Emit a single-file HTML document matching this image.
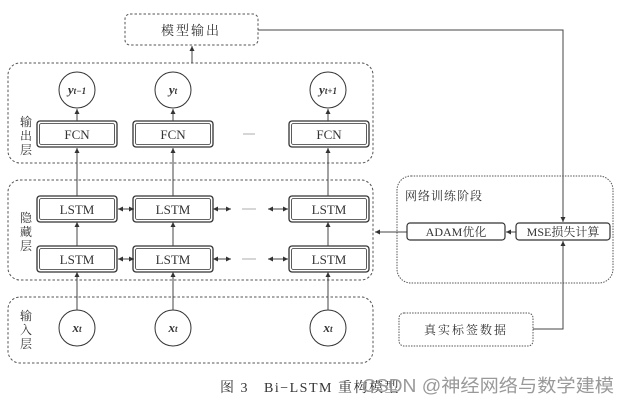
<!DOCTYPE html>
<html><head><meta charset="utf-8"><style>
body{margin:0;background:#fff;width:629px;height:405px;overflow:hidden}
text{font-family:"Liberation Serif","Noto Serif CJK SC",serif;fill:#333}
</style></head><body>
<svg width="629" height="405" viewBox="0 0 629 405" xmlns="http://www.w3.org/2000/svg">
<defs><marker id="a" markerWidth="6" markerHeight="6" refX="5" refY="3" orient="auto"><path d="M0,0.5 L5,3 L0,5.5z" fill="#333"/></marker>
<marker id="b" markerWidth="6" markerHeight="6" refX="1" refY="3" orient="auto"><path d="M6,0.5 L1,3 L6,5.5z" fill="#333"/></marker></defs>
<g fill="none" stroke="#555" stroke-dasharray="2.5,2" stroke-width="1">
<rect x="125" y="14" width="133" height="31" rx="5"/>
<rect x="8" y="63" width="365" height="100" rx="12"/>
<rect x="8" y="180" width="365" height="100" rx="12"/>
<rect x="8" y="297" width="365" height="66" rx="12"/>
<rect x="397" y="176" width="216" height="107" rx="14" stroke-dasharray="1.5,1.2"/>
<rect x="399" y="313" width="134" height="33" rx="5" stroke-dasharray="1.5,1.2"/>
</g>
<text x="191" y="35" font-size="13" text-anchor="middle" letter-spacing="2">模型输出</text>
<g font-size="12" fill="#444"><text x="20" y="126">输</text><text x="20" y="140">出</text><text x="20" y="154">层</text>
<text x="20" y="222">隐</text><text x="20" y="236">藏</text><text x="20" y="250">层</text>
<text x="20" y="320">输</text><text x="20" y="334">入</text><text x="20" y="348">层</text></g>
<g stroke="#333" fill="#fff" stroke-width="1">
<circle cx="77" cy="90" r="18"/><circle cx="173" cy="90" r="18"/><circle cx="328" cy="90" r="18"/>
<circle cx="77" cy="328" r="18"/><circle cx="173" cy="328" r="18"/><circle cx="328" cy="328" r="18"/>
</g>
<g font-size="13" font-weight="bold" font-style="italic" text-anchor="middle">
<text x="77" y="94">y<tspan font-size="9">t−1</tspan></text><text x="173" y="94">y<tspan font-size="9">t</tspan></text><text x="328" y="94">y<tspan font-size="9">t+1</tspan></text>
<text x="77" y="332">x<tspan font-size="9">t</tspan></text><text x="173" y="332">x<tspan font-size="9">t</tspan></text><text x="328" y="332">x<tspan font-size="9">t</tspan></text>
</g>
<g stroke="#333" fill="none">
<g id="bx"><rect x="37" y="121" width="80" height="26" rx="3" stroke-width="1.3"/><rect x="39.5" y="123.5" width="75" height="21" rx="2" stroke-width="0.8"/></g>
<use href="#bx" x="96"/><use href="#bx" x="252"/>
<use href="#bx" y="75"/><use href="#bx" x="96" y="75"/><use href="#bx" x="252" y="75"/>
<use href="#bx" y="125"/><use href="#bx" x="96" y="125"/><use href="#bx" x="252" y="125"/>
</g>
<g font-size="13" text-anchor="middle"><text x="77" y="139">FCN</text><text x="173" y="139">FCN</text><text x="329" y="139">FCN</text>
<text x="77" y="214">LSTM</text><text x="173" y="214">LSTM</text><text x="329" y="214">LSTM</text>
<text x="77" y="264">LSTM</text><text x="173" y="264">LSTM</text><text x="329" y="264">LSTM</text></g>
<g stroke="#444" stroke-width="1" marker-end="url(#a)">
<line x1="192" y1="63" x2="192" y2="46"/>
<line x1="77" y1="121" x2="77" y2="109"/><line x1="173" y1="121" x2="173" y2="109"/><line x1="328" y1="121" x2="328" y2="109"/>
<line x1="77" y1="196" x2="77" y2="148"/><line x1="173" y1="196" x2="173" y2="148"/><line x1="328" y1="196" x2="328" y2="148"/>
<line x1="77" y1="246" x2="77" y2="222"/><line x1="173" y1="246" x2="173" y2="222"/><line x1="328" y1="246" x2="328" y2="222"/>
<line x1="77" y1="310" x2="77" y2="272"/><line x1="173" y1="310" x2="173" y2="272"/><line x1="328" y1="310" x2="328" y2="272"/>
<g marker-start="url(#b)">
<line x1="118" y1="209" x2="134" y2="209"/><line x1="118" y1="259" x2="134" y2="259"/>
<line x1="213" y1="209" x2="231" y2="209"/><line x1="213" y1="259" x2="231" y2="259"/>
<line x1="268" y1="209" x2="288" y2="209"/><line x1="268" y1="259" x2="288" y2="259"/>
</g>
<line x1="407" y1="232" x2="375" y2="232"/>
<line x1="516" y1="232" x2="506" y2="232"/>
<polyline fill="none" points="258,30 563,30 563,222"/>
<polyline fill="none" points="533,329 563,329 563,241"/>
</g>
<g stroke="#999" stroke-width="0.8"><line x1="243" y1="134" x2="255" y2="134"/><line x1="242" y1="209" x2="256" y2="209"/><line x1="242" y1="259" x2="256" y2="259"/></g>
<g fill="none" stroke="#333" stroke-width="1.2"><rect x="407" y="223" width="98" height="17" rx="3"/><rect x="516" y="223" width="94" height="17" rx="3"/></g>
<text x="405" y="200" font-size="12" letter-spacing="1">网络训练阶段</text>
<text x="456" y="236" font-size="12" text-anchor="middle">ADAM优化</text>
<text x="563" y="236" font-size="12" text-anchor="middle">MSE损失计算</text>
<text x="466" y="334" font-size="12" text-anchor="middle" letter-spacing="2">真实标签数据</text>
<text x="220" y="392" font-size="14" letter-spacing="1.5" xml:space="preserve">图 3   Bi−LSTM 重构模型</text>
<text x="362" y="392" font-size="18" textLength="252" lengthAdjust="spacingAndGlyphs" style="font-family:'Liberation Sans','Noto Sans CJK SC',sans-serif;fill:#999">CSDN @神经网络与数学建模</text>
</svg>
</body></html>
